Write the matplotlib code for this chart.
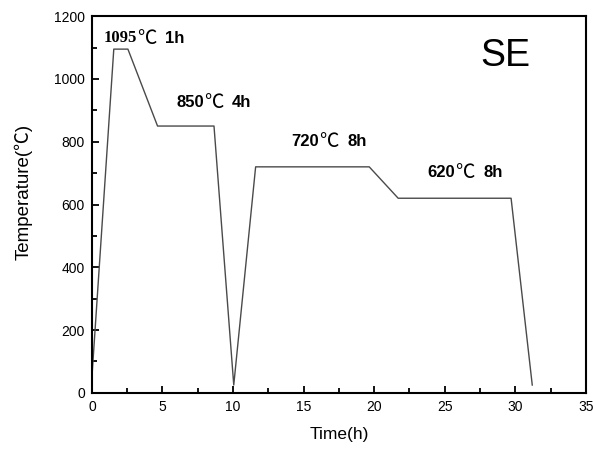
import matplotlib.pyplot as plt
import numpy as np
from matplotlib.ticker import MultipleLocator
from matplotlib.transforms import offset_copy

# heat treatment schedule: time (h) vs temperature (C)
time_h = [0, 1.55, 2.55, 4.65, 8.65, 10.05, 11.6, 19.65, 21.7, 29.7, 31.2]
temp_c = [50, 1095, 1095, 850, 850, 25, 720, 720, 620, 620, 25]

# hold steps written on the chart
hold_temp = [1095, 850, 720, 620]
hold_hours = [1, 4, 8, 8]

# left edge and centre height of each hold label (data units)
label_x = [0.85, 6.0, 14.15, 23.8]
label_y = [1130, 926, 802, 703]

plt.rcParams['font.family'] = ['Liberation Sans', 'Noto Sans CJK SC', 'DejaVu Sans']

fig = plt.figure(figsize=(5.93, 4.49), dpi=100)
ax = fig.add_axes([0.155, 0.125, 0.833, 0.839])

ax.plot(time_h, temp_c, color='#4a4a4a', lw=1.0)

ax.set_xlim(0, 35)
ax.set_ylim(0, 1200)
ax.xaxis.set_major_locator(MultipleLocator(5))
ax.xaxis.set_minor_locator(MultipleLocator(2.5))
ax.yaxis.set_major_locator(MultipleLocator(200))
ax.yaxis.set_minor_locator(MultipleLocator(100))
ax.tick_params(which='both', direction='in', labelsize=10, pad=5, width=1.3)
ax.tick_params(which='major', length=5)
ax.tick_params(which='minor', length=3.5)
for s in ax.spines.values():
    s.set_linewidth(1.5)

ax.set_xlabel('Time(h)', fontsize=12.5)
ax.xaxis.set_label_coords(0.5, -0.09)
ax.set_ylabel('Temperature(\u2103)', fontsize=13.5)
ax.yaxis.set_label_coords(-0.121, 0.533)

# each label = number, degree sign, hours; pieces laid out left to right
renderer = fig.canvas.get_renderer()
for i, (t, h) in enumerate(zip(hold_temp, hold_hours)):
    numfont = 'Liberation Serif' if i == 0 else 'Liberation Sans'
    pieces = [
        (str(t), dict(family=numfont, fontweight='bold', fontsize=12), 0),
        ('\u2103', dict(family=['Noto Sans CJK SC'], fontweight='light', fontsize=14), 0),
        ('%dh' % h, dict(fontweight='bold', fontsize=12), 6),
    ]
    dx = 0.0
    for s, kw, gap in pieces:
        dx += gap
        tr = offset_copy(ax.transData, fig=fig, x=dx, y=0, units='points')
        txt = ax.text(label_x[i], label_y[i], s, transform=tr,
                      ha='left', va='center', **kw)
        dx += txt.get_window_extent(renderer).width * 72 / fig.dpi

ax.text(27.55, 1041, 'SE', fontsize=27, ha='left', va='baseline')

plt.savefig('out.png', dpi=100)
